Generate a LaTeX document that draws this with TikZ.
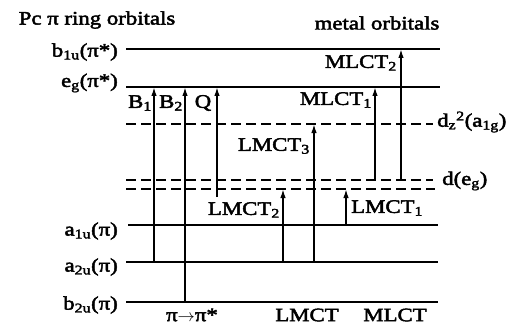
\documentclass[tikz,border=0pt]{standalone}
\usepackage{fontspec}
\setmainfont{Liberation Serif}[FakeStretch=1.2,FakeBold=2.5]
\usetikzlibrary{arrows.meta}
\begin{document}
\begin{tikzpicture}[x=1pt,y=-1pt,
  font=\fontsize{19}{22}\selectfont,
  lev/.style={line width=1.8pt},
  dlev/.style={line width=1.8pt,dash pattern=on 10pt off 5pt},
  tr/.style={line width=1.6pt,-{Latex[length=9pt,width=5.5pt]}},
  lbl/.style={inner sep=0pt}]
\useasboundingbox (0,0) rectangle (516,326);
% level end points
\coordinate (b1uL) at (126,49);  \coordinate (b1uR) at (440,49);
\coordinate (egL)  at (126,87);  \coordinate (egR)  at (440,87);
\coordinate (dzL)  at (126,124); \coordinate (dzR)  at (433,124);
\coordinate (deL)  at (126,180); \coordinate (deR)  at (433,180);
\coordinate (deLL) at (126,189); \coordinate (deRR) at (435,189);
\coordinate (a1uL) at (128,225); \coordinate (a1uR) at (438,225);
\coordinate (a2uL) at (126,262); \coordinate (a2uR) at (438,262);
\coordinate (b2uL) at (126,302); \coordinate (b2uR) at (438,302);
% transition x positions
\coordinate (xB1) at (154,0);
\coordinate (xB2) at (185,0);
\coordinate (xQ)  at (217,0);
\coordinate (Qbot) at (217,197);
\coordinate (xL2) at (283,0);
\coordinate (xL3) at (314,0);
\coordinate (xL1) at (346,0);
\coordinate (xM1) at (375,0);
\coordinate (xM2) at (401,0);
% levels
\draw[lev] (b1uL) -- (b1uR);
\draw[lev] (egL) -- (egR);
\draw[dlev] (dzL) -- (dzR);
\draw[dlev] (deL) -- (deR);
\draw[dlev] (deLL) -- (deRR);
\draw[lev] (a1uL) -- (a1uR);
\draw[lev] (a2uL) -- (a2uR);
\draw[lev] (b2uL) -- (b2uR);
% transitions
\draw[tr] (xB1 |- a2uL) -- (xB1 |- egL);
\draw[tr] (xB2 |- b2uL) -- (xB2 |- egL);
\draw[tr] (Qbot) -- (xQ |- egL);
\draw[tr] (xL2 |- a2uL) -- (xL2 |- deLL);
\draw[tr] (xL3 |- a2uL) -- (xL3 |- dzL);
\draw[tr] (xL1 |- a1uL) -- (xL1 |- deLL);
\draw[tr] (xM1 |- deL) -- (xM1 |- egL);
\draw[tr] (xM2 |- deL) -- (xM2 |- b1uL);
% headings
\node[lbl] (hpc) at (97,20) {Pc π ring orbitals};
\node[lbl] (hmet) at (377,23) {metal orbitals};
% level labels
\node[lbl,anchor=east] (lb1u) at (118,52) {b\textsubscript{1u}(π*)};
\node[lbl,anchor=east] (leg)  at (118,83) {e\textsubscript{g}(π*)};
\node[lbl,anchor=east] (la1u) at (118,231) {a\textsubscript{1u}(π)};
\node[lbl,anchor=east] (la2u) at (118,267) {a\textsubscript{2u}(π)};
\node[lbl,anchor=east] (lb2u) at (118,305) {b\textsubscript{2u}(π)};
\node[lbl,anchor=west] (ldz) at (437,122) {d\textsubscript{z}\textsuperscript{2}(a\textsubscript{1g})};
\node[lbl,anchor=west] (lde) at (442,181) {d(e\textsubscript{g})};
% transition labels
\node[lbl] (tB1) at (140,103) {B\textsubscript{1}};
\node[lbl] (tB2) at (171,103) {B\textsubscript{2}};
\node[lbl] (tQ)  at (203,103) {Q};
\node[lbl,anchor=east] (tM2) at (397,63) {MLCT\textsubscript{2}};
\node[lbl,anchor=east] (tM1) at (372,100) {MLCT\textsubscript{1}};
\node[lbl,anchor=east] (tL3) at (310,146) {LMCT\textsubscript{3}};
\node[lbl,anchor=east] (tL2) at (280,210) {LMCT\textsubscript{2}};
\node[lbl,anchor=west] (tL1) at (351,208) {LMCT\textsubscript{1}};
% bottom labels
\node[lbl] (bpp) at (192,315) {π$\rightarrow$π*};
\node[lbl] (blm) at (307,315) {LMCT};
\node[lbl] (bml) at (395,315) {MLCT};
\end{tikzpicture}
\end{document}
